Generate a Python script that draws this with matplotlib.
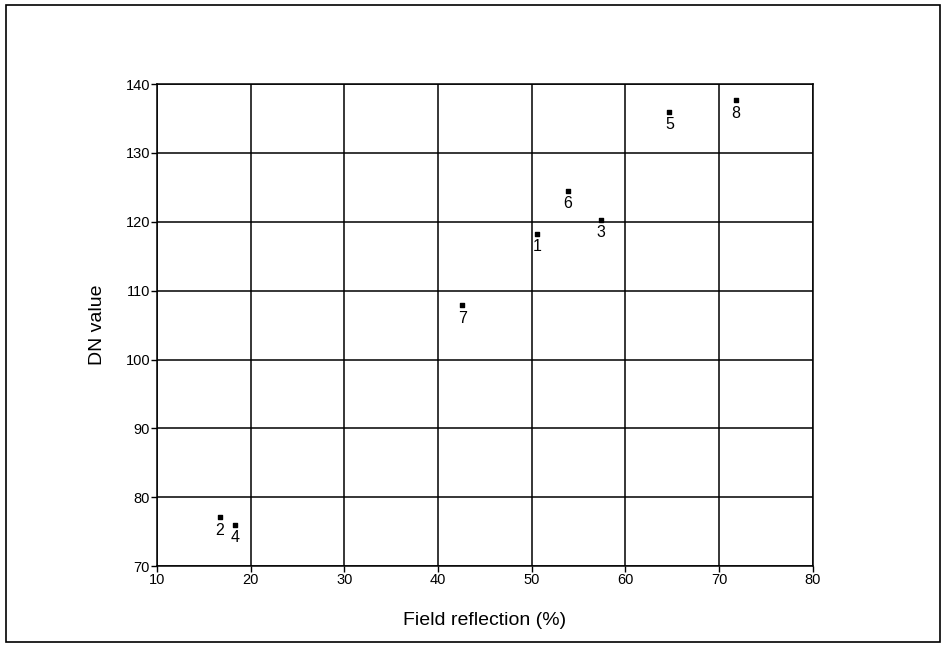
import matplotlib
matplotlib.use("Agg")
import matplotlib.pyplot as plt
from matplotlib.patches import Rectangle

# sample points: field reflection (%) vs DN value
labels = ["1", "2", "3", "4", "5", "6", "7", "8"]
reflection = [50.6, 16.7, 57.4, 18.3, 64.7, 53.9, 42.6, 71.8]
dn_value = [118.3, 77.1, 120.3, 76.0, 136.0, 124.5, 107.9, 137.7]

x_ticks = [10, 20, 30, 40, 50, 60, 70, 80]
y_ticks = [70, 80, 90, 100, 110, 120, 130, 140]

fig = plt.figure(figsize=(9.46, 6.47), dpi=100)
ax = fig.add_axes([0.166, 0.125, 0.693, 0.745])

ax.scatter(reflection, dn_value, marker="s", s=10, color="black", zorder=3)
for lab, x, y in zip(labels, reflection, dn_value):
    ax.annotate(lab, (x, y), xytext=(0, -4), textcoords="offset points",
                ha="center", va="top", fontsize=11.5, family="Liberation Sans")

ax.set_xlim(10, 80)
ax.set_ylim(70, 140)
ax.set_xticks(x_ticks)
ax.set_yticks(y_ticks)
ax.grid(True, color="black", linewidth=1.1)
ax.tick_params(direction="out", length=4, width=1, labelsize=10.5, pad=1)
for lbl in ax.get_xticklabels() + ax.get_yticklabels():
    lbl.set_family("Liberation Sans")
for sp in ax.spines.values():
    sp.set_linewidth(1.1)

ax.set_xlabel("Field reflection (%)", fontsize=14, family="Liberation Sans", labelpad=18)
ax.set_ylabel("DN value", fontsize=14, family="Liberation Sans", labelpad=14)

# outer frame around the whole figure
fig.patches.append(Rectangle((0.006, 0.008), 0.988, 0.985, transform=fig.transFigure,
                             fill=False, edgecolor="black", linewidth=1.2))

fig.savefig("out.png", dpi=100)
